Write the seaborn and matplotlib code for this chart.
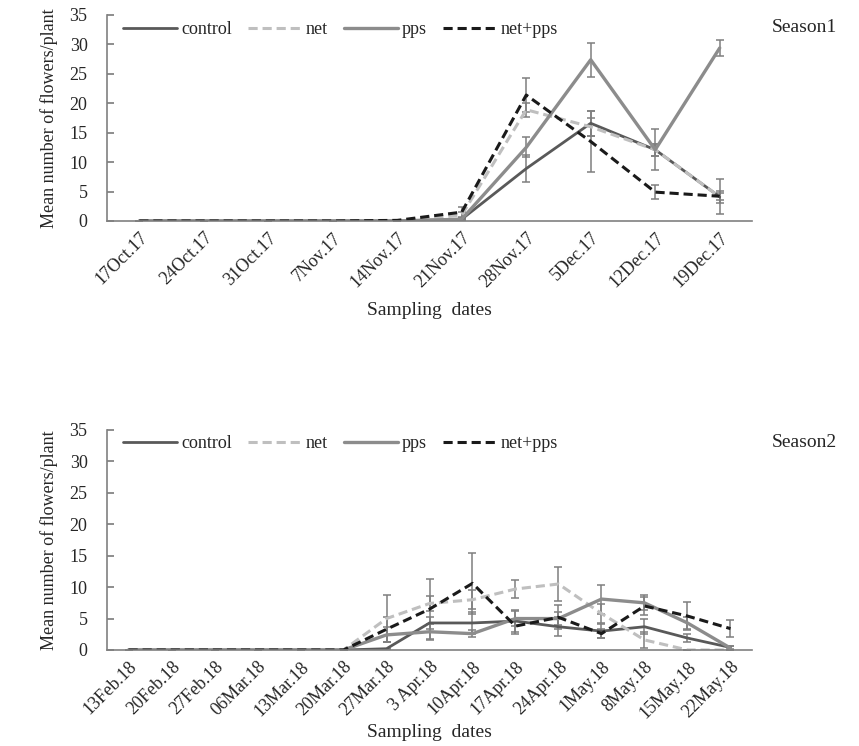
import matplotlib
matplotlib.use('Agg')
import matplotlib.pyplot as plt
import seaborn as sns
import pandas as pd
import numpy as np

sns.set_theme(style='white')
plt.rcParams['font.family'] = ['Liberation Serif', 'DejaVu Serif']

# Temporada 1
fechas1 = ['17Oct.17', '24Oct.17', '31Oct.17', '7Nov.17', '14Nov.17',
           '21Nov.17', '28Nov.17', '5Dec.17', '12Dec.17', '19Dec.17']
control1 = [0, 0, 0, 0, 0, 0.3, 8.9, 16.6, 12.1, 4.1]
net1 = [0, 0, 0, 0, 0, 1.0, 18.9, 16.0, 12.1, 4.1]
pps1 = [0, 0, 0, 0, 0, 0.3, 12.5, 27.4, 12.1, 29.4]
netpps1 = [0, 0, 0, 0, 0.1, 1.5, 21.4, 13.5, 4.9, 4.2]
control1_err = [0, 0, 0, 0, 0, 0.2, 2.3, 2.1, 3.5, 1.0]
net1_err = [0, 0, 0, 0, 0, 0.6, 1.2, 1.5, 1.0, 3.0]
pps1_err = [0, 0, 0, 0, 0, 0.2, 1.7, 2.9, 1.0, 1.3]
netpps1_err = [0, 0, 0, 0, 0, 0.9, 2.9, 5.2, 1.2, 0.6]

# Temporada 2
fechas2 = ['13Feb.18', '20Feb.18', '27Feb.18', '06Mar.18', '13Mar.18',
           '20Mar.18', '27Mar.18', '3 Apr.18', '10Apr.18', '17Apr.18',
           '24Apr.18', '1May.18', '8May.18', '15May.18', '22May.18']
control2 = [0, 0, 0, 0, 0, 0, 0.2, 4.3, 4.3, 4.6, 3.7, 3.0, 3.7, 1.9, 0.4]
net2 = [0, 0, 0, 0, 0, 0, 5.0, 7.4, 8.0, 9.7, 10.5, 5.8, 1.6, 0, 0]
pps2 = [0, 0, 0, 0, 0, 0, 2.4, 2.9, 2.6, 5.0, 5.0, 8.1, 7.5, 4.3, 0.3]
netpps2 = [0, 0, 0, 0, 0, 0, 3.3, 6.5, 10.6, 3.8, 5.2, 2.6, 7.0, 5.4, 3.4]
control2_err = [0, 0, 0, 0, 0, 0, 0, 1.0, 1.7, 1.7, 1.5, 1.1, 1.2, 0.6, 0.2]
net2_err = [0, 0, 0, 0, 0, 0, 3.8, 1.2, 1.5, 1.4, 2.7, 1.5, 1.3, 0, 0]
pps2_err = [0, 0, 0, 0, 0, 0, 1.2, 1.3, 0.6, 1.2, 1.0, 2.3, 1.2, 1.0, 0.3]
netpps2_err = [0, 0, 0, 0, 0, 0, 2.0, 4.8, 4.8, 1.2, 1.9, 0.7, 1.5, 2.2, 1.4]

tratamientos = ['control', 'net', 'pps', 'net+pps']
estilos = {
    'control': dict(color='#595959', ls='-', lw=2.0),
    'net': dict(color='#bfbfbf', ls=(0, (3, 1.6)), lw=2.2),
    'pps': dict(color='#8c8c8c', ls='-', lw=2.4),
    'net+pps': dict(color='#1a1a1a', ls=(0, (3, 1.6)), lw=2.2),
}


def panel(ax, fechas, series, errores, titulo, pad_x):
    x = np.arange(len(fechas))
    for nombre, y, e in zip(tratamientos, series, errores):
        st = estilos[nombre]
        ax.errorbar(x, y, yerr=e, fmt='none', ecolor='#7f7f7f',
                    elinewidth=1.1, capsize=3, capthick=1.1, zorder=1)
        df = pd.DataFrame({'x': x, 'y': y})
        sns.lineplot(data=df, x='x', y='y', ax=ax, color=st['color'],
                     linestyle=st['ls'], linewidth=st['lw'], label=nombre,
                     zorder=2)
    ax.set_xlim(-0.5, len(fechas) - 0.5)
    ax.set_ylim(0, 35)
    ax.set_yticks(range(0, 36, 5))
    ax.set_xticks(x)
    ax.set_xticklabels(fechas, rotation=45, ha='right',
                       rotation_mode='anchor', fontsize=13)
    ax.tick_params(axis='y', direction='in', length=5, color='#808080',
                   labelsize=13, left=True, pad=14)
    ax.tick_params(axis='x', length=0, pad=6)
    for s in ['top', 'right']:
        ax.spines[s].set_visible(False)
    for s in ['left', 'bottom']:
        ax.spines[s].set_color('#808080')
        ax.spines[s].set_linewidth(1.2)
    ax.set_xlabel('Sampling  dates', fontsize=14, labelpad=pad_x)
    ax.set_ylabel('Mean number of flowers/plant', fontsize=13, labelpad=8)
    ax.legend(loc='upper left', bbox_to_anchor=(0.0, 1.05), ncol=4,
              frameon=False, fontsize=13, handlelength=3.0,
              handletextpad=0.2, columnspacing=0.9)
    ax.text(1.03, 0.98, titulo, transform=ax.transAxes, fontsize=14,
            ha='left', va='top')


fig = plt.figure(figsize=(8.59, 7.46), dpi=100)
ax1 = fig.add_axes([0.1246, 0.7038, 0.7508, 0.2761])
ax2 = fig.add_axes([0.1246, 0.1287, 0.7508, 0.2949])

panel(ax1, fechas1, [control1, net1, pps1, netpps1],
      [control1_err, net1_err, pps1_err, netpps1_err], 'Season1', 8)
panel(ax2, fechas2, [control2, net2, pps2, netpps2],
      [control2_err, net2_err, pps2_err, netpps2_err], 'Season2', 2)

fig.savefig('out.png', dpi=100, facecolor='white')
